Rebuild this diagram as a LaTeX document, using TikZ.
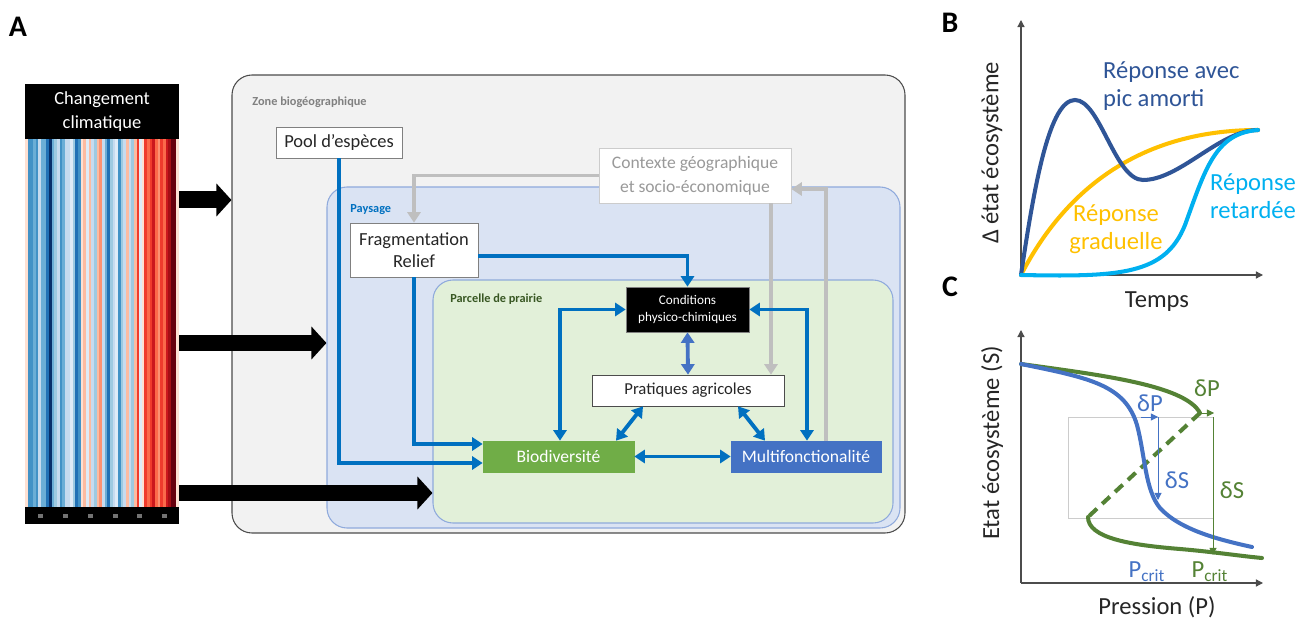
\documentclass[tikz,border=0pt]{standalone}
\usepackage{fontspec}
\setmainfont{Carlito}
\usetikzlibrary{arrows.meta,fit}

\definecolor{bleu}{HTML}{0070C0}
\definecolor{bleuB}{HTML}{2F5597}
\definecolor{bleuC}{HTML}{4472C4}
\definecolor{ciel}{HTML}{00B0F0}
\definecolor{jaune}{HTML}{FFC000}
\definecolor{vert}{HTML}{70AD47}
\definecolor{vertC}{HTML}{548235}
\definecolor{vertF}{HTML}{385723}
\definecolor{grisZ}{HTML}{F2F2F2}
\definecolor{fondP}{HTML}{DAE3F3}
\definecolor{fondV}{HTML}{E2F0D9}
\definecolor{bordP}{HTML}{8FAADC}
\definecolor{s1}{HTML}{08306B}
\definecolor{s2}{HTML}{2171B5}
\definecolor{s3}{HTML}{4292C6}
\definecolor{s4}{HTML}{6BAED6}
\definecolor{s5}{HTML}{9ECAE1}
\definecolor{s6}{HTML}{C6DBEF}
\definecolor{s7}{HTML}{DEEBF7}
\definecolor{r1}{HTML}{FEE0D2}
\definecolor{r2}{HTML}{FCBBA1}
\definecolor{r3}{HTML}{FC9272}
\definecolor{r4}{HTML}{FB6A4A}
\definecolor{r5}{HTML}{EF3B2C}
\definecolor{r6}{HTML}{CB181D}
\definecolor{r7}{HTML}{A50F15}
\definecolor{r8}{HTML}{67000D}

\begin{document}
\begin{tikzpicture}[x=0.02cm, y=-0.02cm,
    >={Triangle[length=6pt, width=7.5pt]},
    cadre/.style={draw, rounded corners=0.4cm, inner sep=0pt, line width=0.6pt},
    boite/.style={draw=black!50, fill=white, align=center, inner sep=1pt, text=black!85, font=\fontsize{10.5}{12.5}\selectfont},
    lien/.style={color=bleu, line width=2.2pt},
    gris/.style={color=black!25, line width=2.2pt},
    grosse/.style={line width=0.34cm, -{Triangle[length=0.3cm, width=0.64cm]}},
    petit/.style={font=\bfseries\fontsize{7}{8}\selectfont, anchor=west, inner sep=0pt},
    lettre/.style={font=\bfseries\fontsize{17}{17}\selectfont, text=black},
    grand/.style={font=\fontsize{14}{16}\selectfont, text=black!85},
    axe/.style={color=black!70, line width=0.7pt, -{Triangle[length=4pt, width=4pt]}},
    fine/.style={line width=0.5pt, -{Triangle[length=4pt, width=4pt]}},
    courbe/.style={line width=2.3pt, line cap=round}]

    \useasboundingbox (0,0) rectangle (1302,621);

    \node[lettre] (lA) at (18,27) {A};
    \node[lettre] (lB) at (950,23) {B};
    \node[lettre] (lC) at (950,287) {C};

    \foreach \c [count=\i from 0] in {r1,s3,s3,s4,s3,s6,s4,s4,s2,s1,s4,s5,s6,s3,s4,s6,s6,s7,s5,s2,
        s3,r1,r2,s7,r2,s6,s5,r2,r3,s6,s4,s2,s5,s6,s7,s3,s5,s6,r2,s6,
        s5,r2,r5,s7,r1,r5,r4,r5,r6,r4,r3,r5,r4,r6,r7,r8,r8,r1}
        \fill[\c] (25+\i*2.655,139) rectangle (27.7+\i*2.655,507);
    \node[fit={(25,139) (179,507)}, inner sep=0pt] (rayures) {};
    \node[fill=black, text=white, minimum width=3.08cm, minimum height=1.1cm, align=center, font=\fontsize{10.5}{14}\selectfont] (titre) at (102,111.5) {Changement\\climatique};
    \node[fill=black, minimum width=3.08cm, minimum height=0.34cm, inner sep=0pt] (annees) at (102,515.5) {};
    \foreach \x in {40,65,90,115,139,164}
        \fill[black!55] (\x-2.5,513.5) rectangle (\x+2.5,517.5);

    \node[cadre, draw=black!70, fill=grisZ, fit={(232,75) (905,533)}] (zone) {};
    \node[cadre, draw=bordP, fill=fondP, fit={(327,187) (900,528)}] (paysage) {};
    \node[cadre, draw=bordP, fill=fondV, fit={(433,280) (893,523)}] (parcelle) {};
    \node[petit, text=black!50] (lzone) at (252,102) {Zone biogéographique};
    \node[petit, text=bleu] (lpaysage) at (350,210) {Paysage};
    \node[petit, text=vertF] (lparcelle) at (450,299) {Parcelle de prairie};

    \draw[grosse] (rayures.east |- 0,200) -- (zone.west |- 0,200);
    \draw[grosse] (rayures.east |- 0,343) -- (paysage.west |- 0,343);
    \draw[grosse] (rayures.east |- 0,493) -- (parcelle.west |- 0,493);

    \node[boite, minimum width=2.52cm, minimum height=0.62cm] (pool) at (339,142.5) {Pool d’espèces};
    \node[boite, minimum width=2.56cm, minimum height=1.08cm] (frag) at (414,250) {Fragmentation\\Relief};
    \node[boite, draw=black!20, text=black!40, minimum width=3.84cm, minimum height=1.1cm, font=\fontsize{10}{13.5}\selectfont] (ctx) at (695,175.5) {Contexte géographique\\et socio-économique};
    \node[boite, fill=black, text=white, minimum width=2.46cm, minimum height=0.9cm, font=\fontsize{7.5}{9.5}\selectfont] (cond) at (687.5,309.5) {Conditions\\physico-chimiques};
    \node[boite, draw=black!70, minimum width=3.84cm, minimum height=0.62cm, font=\fontsize{9.5}{11}\selectfont] (prat) at (688,390.5) {Pratiques agricoles};
    \node[boite, draw=vert, fill=vert, text=white, minimum width=3.02cm, minimum height=0.62cm, font=\fontsize{10}{12}\selectfont] (biodiv) at (558.5,456.5) {Biodiversité};
    \node[boite, draw=bleuC, fill=bleuC, text=white, minimum width=3cm, minimum height=0.62cm, font=\fontsize{10}{12}\selectfont] (multi) at (806,456.5) {Multifonctionalité};

    \draw[gris, ->] (ctx.west) -| (frag.north);
    \draw[gris, ->] (ctx.south -| 771,0) -- (prat.north -| 771,0);
    \draw[gris, ->] (multi.north -| 826,0) |- (ctx.east |- 0,189);
    \draw[lien, ->] (pool.south) |- (biodiv.west |- 0,463);
    \draw[lien, ->] (frag.south) |- (biodiv.west |- 0,444);
    \draw[lien, ->] ([yshift=-0.12cm]frag.east) -| (cond.north);
    \draw[lien, <->] (biodiv.north -| 560,0) |- (cond.west);
    \draw[lien, <->] (multi.north -| 807,0) |- (cond.east);
    \draw[lien, <->, color=bleuC] (cond.south) -- (prat.north);
    \draw[lien, <->] (prat.south -| 643,0) -- (biodiv.north -| 616,0);
    \draw[lien, <->] (prat.south -| 738,0) -- (multi.north -| 765,0);
    \draw[lien, <->] (biodiv.east) -- (multi.west);

    \coordinate (oB) at (1021,275);
    \coordinate (hB) at (1021,20);
    \coordinate (dB) at (1263,275);
    \draw[axe] (oB) -- (hB);
    \draw[axe] (oB) -- (dB);
    \draw[courbe, jaune] (oB) .. controls (1070,180) and (1150,130) .. (1258,130);
    \draw[courbe, bleuB] (oB) .. controls (1035,180) and (1050,100) .. (1075,100) .. controls (1100,100) and (1115,180) .. (1143,180) .. controls (1180,180) and (1220,130) .. (1258,130);
    \draw[courbe, ciel] (oB) .. controls (1120,277) and (1165,275) .. (1185,225) .. controls (1205,170) and (1215,133) .. (1258,130);
    \node[grand, text=bleuB, anchor=west, align=left] (rpic) at (1097,86) {Réponse avec\\pic amorti};
    \node[grand, text=jaune, align=center] (rgrad) at (1116,229) {Réponse\\graduelle};
    \node[grand, text=ciel, align=center] (rret) at (1253,196) {Réponse\\retardée};
    \node[grand, rotate=90] (ylB) at (992,153) {Δ état écosystème};
    \node[grand] (xlB) at (1157,302) {Temps};

    \coordinate (oC) at (1021,583);
    \coordinate (hC) at (1021,330);
    \coordinate (dC) at (1263,583);
    \draw[axe] (oC) -- (hC);
    \draw[axe] (oC) -- (dC);
    \draw[black!20, line width=0.5pt] (1068,417) rectangle (1213,518);
    \draw[courbe, vertC] (1021,364) .. controls (1100,375) and (1185,385) .. (1200,413);
    \draw[courbe, vertC, line cap=butt, dash pattern=on 6pt off 4pt] (1200,413) -- (1088,517);
    \draw[courbe, vertC] (1088,517) .. controls (1088,538) and (1130,545) .. (1180,549) .. controls (1215,552) and (1240,556) .. (1262,558);
    \draw[courbe, bleuC] (1021,364) .. controls (1090,378) and (1125,385) .. (1137,425) .. controls (1145,455) and (1145,490) .. (1160,508) .. controls (1180,530) and (1220,540) .. (1252,547);
    \draw[fine, bleuC] (1141,417) -- (1158,417);
    \draw[fine, bleuC] (1158,417) -- (1158,500);
    \draw[fine, vertC] (1200,413) -- (1214,413);
    \draw[fine, vertC] (1213,417) -- (1213,555);
    \node[grand, text=bleuC] (dPb) at (1150,403) {δP};
    \node[grand, text=vertC] (dPv) at (1207,388) {δP};
    \node[grand, text=bleuC] (dSb) at (1177,480) {δS};
    \node[grand, text=vertC] (dSv) at (1232,490) {δS};
    \node[grand, text=bleuC] (pcb) at (1147,572) {P\textsubscript{crit}};
    \node[grand, text=vertC] (pcv) at (1210,572) {P\textsubscript{crit}};
    \node[grand, rotate=90] (ylC) at (992,443) {Etat écosystème (S)};
    \node[grand] (xlC) at (1157,607) {Pression (P)};

\end{tikzpicture}
\end{document}
